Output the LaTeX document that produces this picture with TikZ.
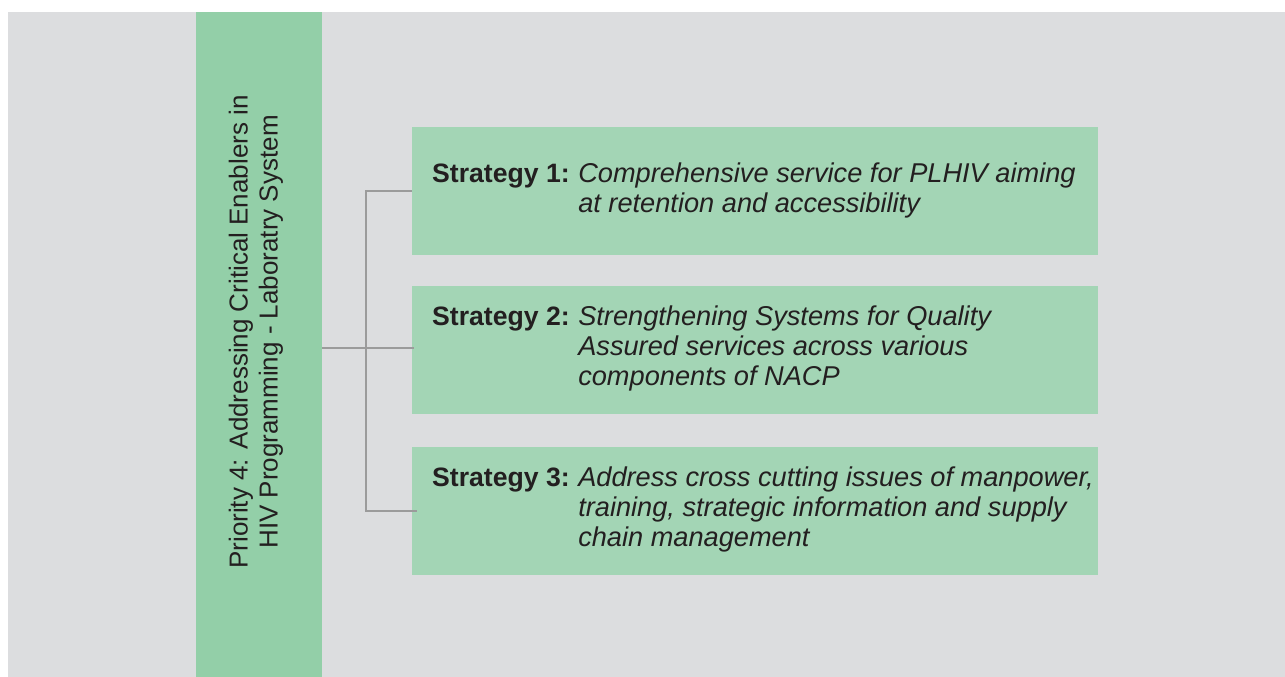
\documentclass[tikz,border=0pt]{standalone}
\usepackage{fontspec}
\setmainfont{Liberation Sans}
\definecolor{bg}{HTML}{DCDDDF}
\definecolor{barg}{HTML}{93CFA8}
\definecolor{boxg}{HTML}{A3D5B5}
\definecolor{ln}{HTML}{9B9B9B}
\definecolor{txt}{HTML}{231F20}
\newcommand{\lab}[1]{{\fontsize{26.6}{30}\selectfont\bfseries #1}}
\newcommand{\itx}[1]{{\fontsize{27.2}{30}\selectfont\itshape #1}}
\begin{document}
\begin{tikzpicture}[x=1pt,y=-1pt,
  bar/.style={fill=barg, draw=none, minimum width=126pt, minimum height=665pt, inner sep=0pt},
  sbox/.style={fill=boxg, draw=none, minimum width=686pt, minimum height=128pt, inner sep=0pt},
  stxt/.style={anchor=west, inner sep=0pt, text=txt, font=\fontsize{26}{30}\selectfont},
  conn/.style={draw=ln, line width=1.2pt}]
\useasboundingbox (0,0) rectangle (1285,677);
\fill[bg] (8,12) rectangle (1285,677);
\node[bar] (bar) at (259,344.5) {};
\node[rotate=90, text=txt, font=\fontsize{26}{30}\selectfont, align=center, inner sep=0pt] (bart) at (256,332) {Priority 4: Addressing Critical Enablers in\\HIV Programming - Laboratry System};
\node[sbox] (b1) at (755,191) {};
\node[sbox] (b2) at (755,350) {};
\node[sbox] (b3) at (755,511) {};
\node[stxt] (t1) at (432,191) {\begin{tabular}{@{}l@{\hspace{0.33em}}l@{}}\lab{Strategy 1:} & \itx{Comprehensive service for PLHIV aiming}\\ & \itx{at retention and accessibility}\end{tabular}};
\node[stxt] (t2) at (432,349) {\begin{tabular}{@{}l@{\hspace{0.33em}}l@{}}\lab{Strategy 2:} & \itx{Strengthening Systems for Quality}\\ & \itx{Assured services across various}\\ & \itx{components of NACP}\end{tabular}};
\node[stxt] (t3) at (432,510) {\begin{tabular}{@{}l@{\hspace{0.33em}}l@{}}\lab{Strategy 3:} & \itx{Address cross cutting issues of manpower,}\\ & \itx{training, strategic information and supply}\\ & \itx{chain management}\end{tabular}};
\coordinate (spine) at (366,0);
\draw[conn] (bar.east |- 0,348) -- ([xshift=2pt]b2.west |- 0,348);
\draw[conn] (b1.west) -- (b1.west -| spine) -- (spine |- 0,511) -- ([xshift=5pt]b3.west);
\end{tikzpicture}
\end{document}
